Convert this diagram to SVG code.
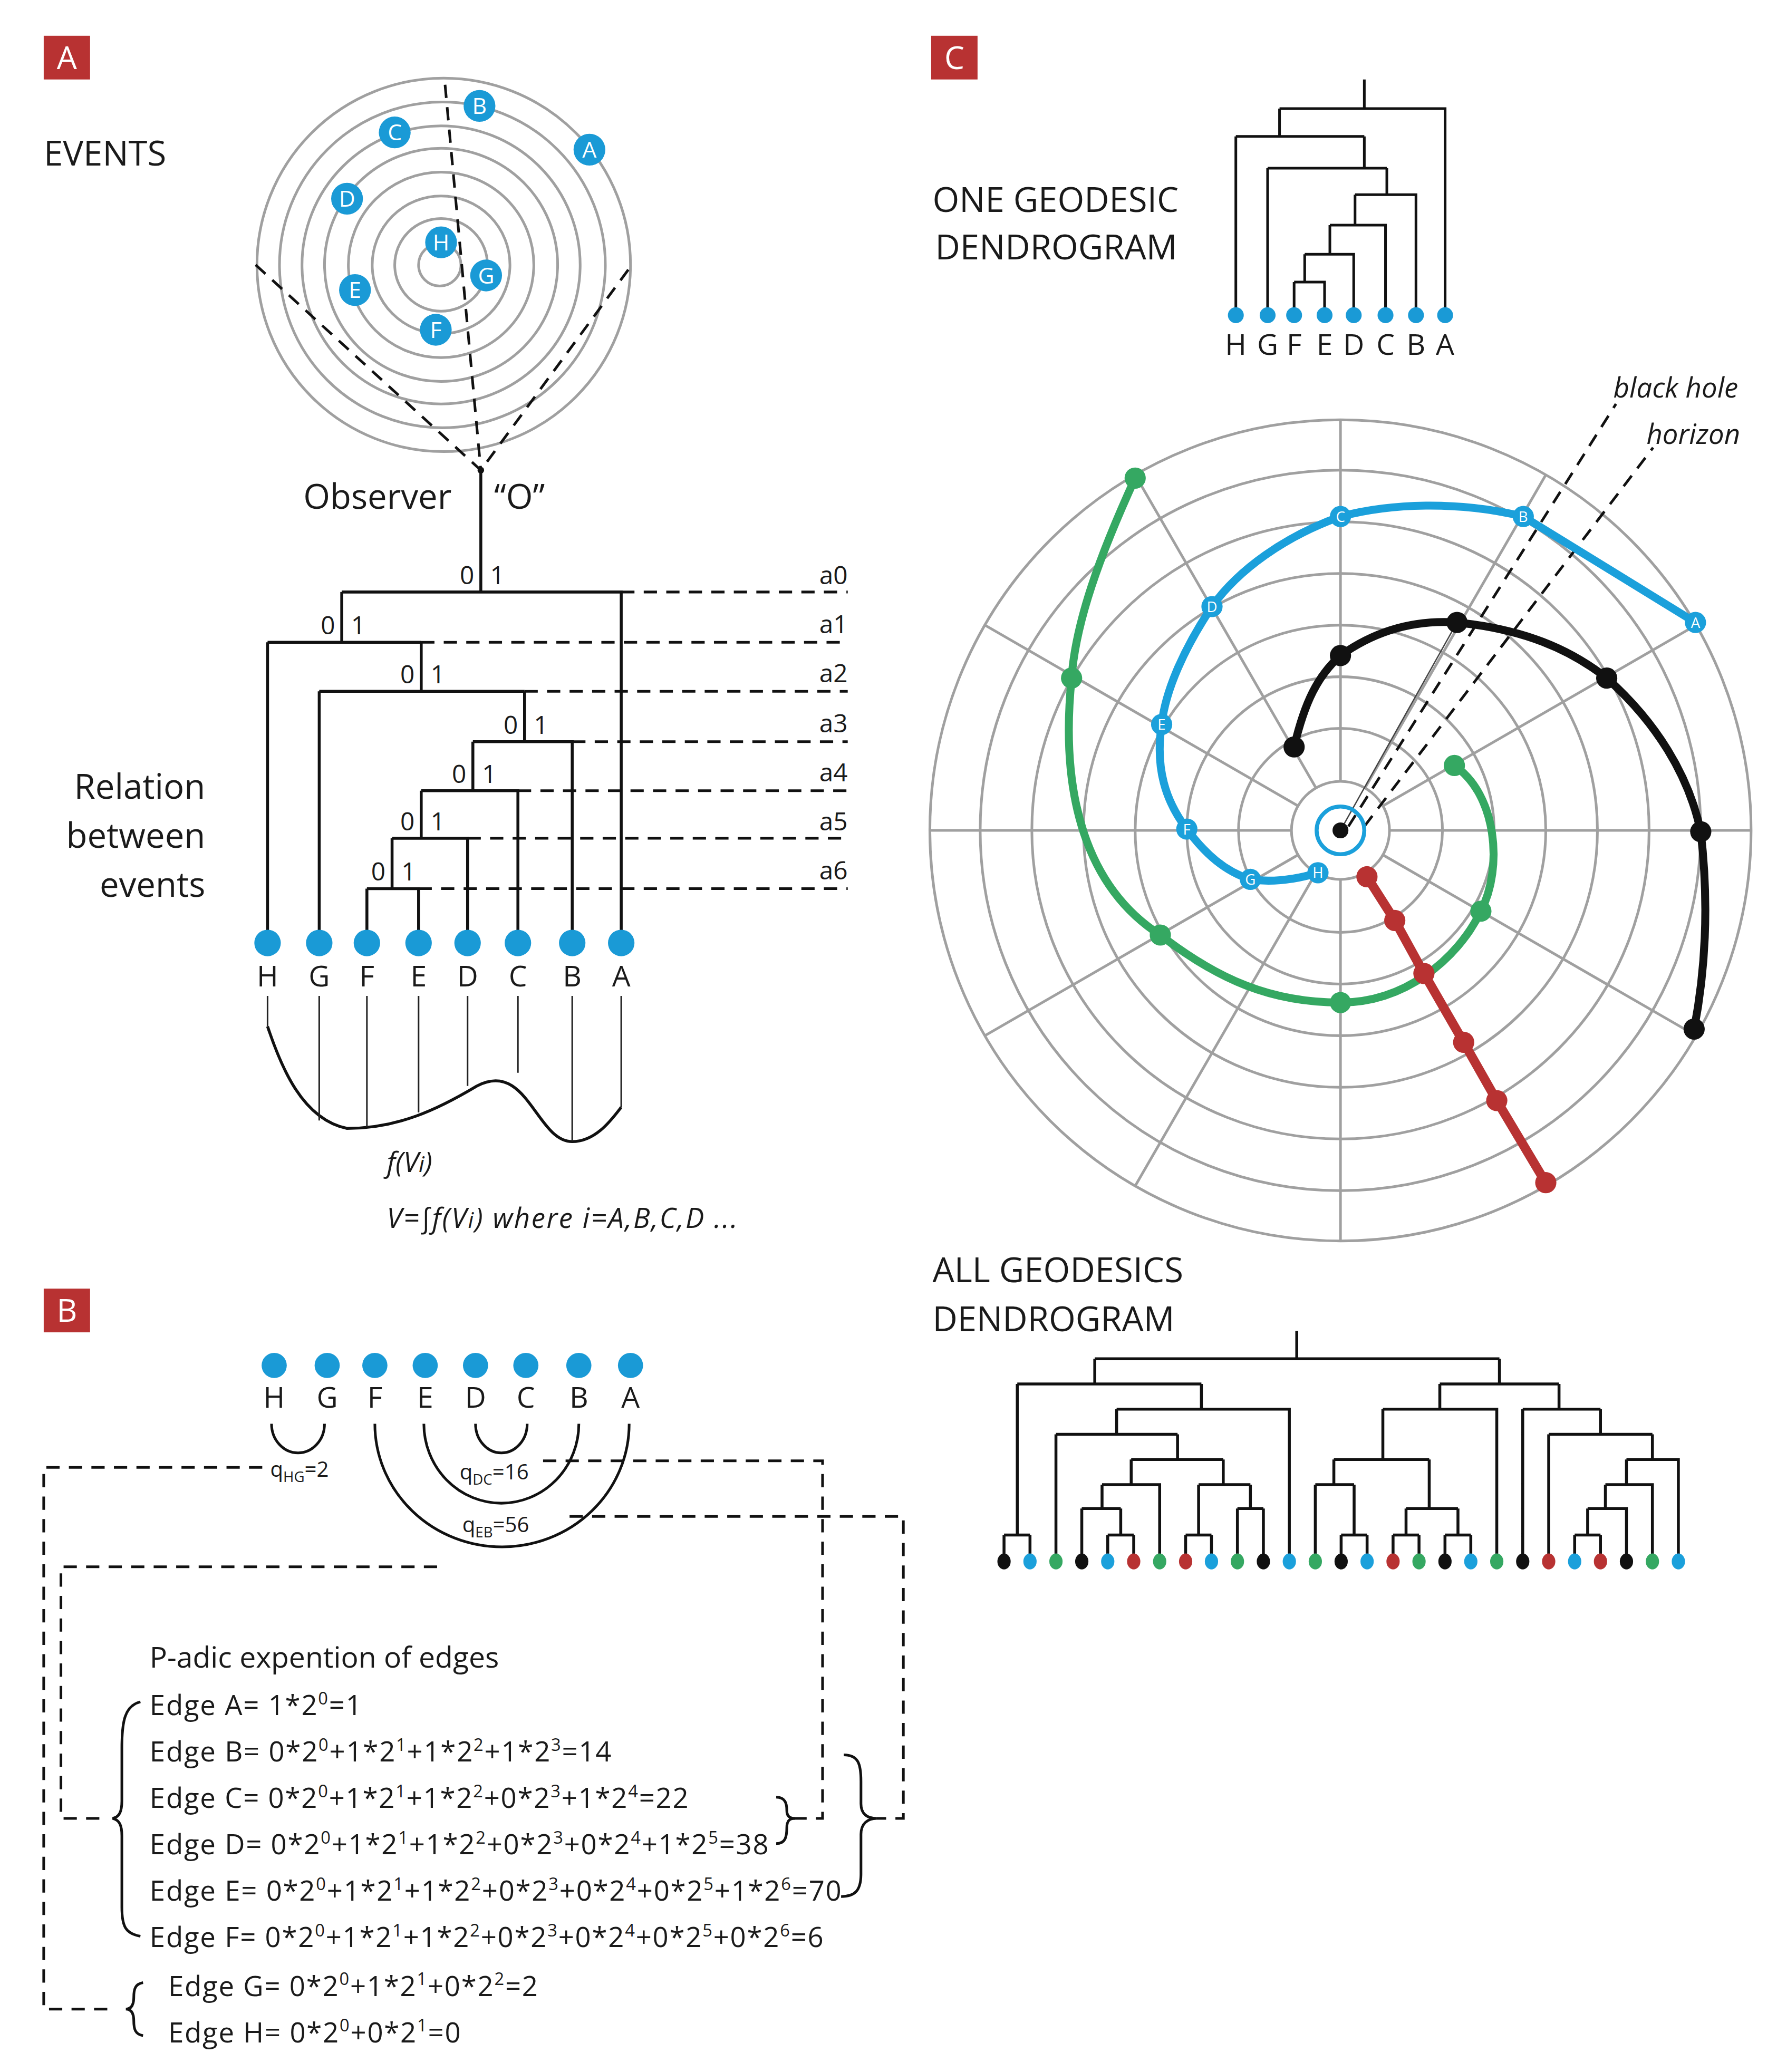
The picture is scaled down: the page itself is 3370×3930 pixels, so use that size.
<svg xmlns="http://www.w3.org/2000/svg" width="3370" height="3930" viewBox="0 0 3370 3930">
<defs>
<style>
text{font-family:"Open Sans","DejaVu Sans",sans-serif;fill:#1a1a1a}
.h{font-size:26px}
.lab{font-size:22px;text-anchor:middle}
.bit{font-size:19px}
.it{font-style:italic;font-size:21px}
.ed{font-size:21px;letter-spacing:0.7px}
.sp{font-size:13px}
.ln{fill:none;stroke:#111;stroke-width:2.2}
.tk{fill:none;stroke:#111;stroke-width:2}
.th{fill:none;stroke:#222;stroke-width:1.2}
.ds{fill:none;stroke:#111;stroke-width:2;stroke-dasharray:10 7}
.ring{fill:none;stroke:#a0a0a0;stroke-width:2}
.ev{fill:#1a9ad6}
.evt{font-size:17px;fill:#fff;text-anchor:middle}
.nt{font-size:11px;fill:#fff;text-anchor:middle}
.box{fill:#b83232}
.bx{fill:#fff;font-size:24px;text-anchor:middle}
</style>
</defs>
<rect width="3370" height="3930" fill="#fff"/>
<g transform="scale(2.512)">
<!-- PANEL A -->
<g id="panelA">
<rect class="box" x="33" y="27" width="35" height="33"/><text class="bx" x="50.5" y="52">A</text>
<text class="h" x="33" y="125">EVENTS</text>
<g id="events-rings">
<circle class="ring" cx="335" cy="200" r="141"/>
<circle class="ring" cx="334" cy="200" r="123"/>
<circle class="ring" cx="333" cy="200" r="105"/>
<circle class="ring" cx="333" cy="200" r="88"/>
<circle class="ring" cx="333" cy="200" r="70"/>
<circle class="ring" cx="333" cy="200" r="52"/>
<circle class="ring" cx="333" cy="200" r="35"/>
<circle class="ring" cx="332" cy="200" r="16"/>
</g>
<g id="obs-lines">
<path class="ds" d="M193,200 L363,355 L477,200"/>
<path class="ds" d="M336,64 L363,355"/>
<circle cx="363" cy="355" r="2.5" fill="#111"/>
</g>
<g id="ev-A"><circle class="ev" cx="445" cy="113" r="12"/><text class="evt" x="445" y="119">A</text></g>
<g id="ev-B"><circle class="ev" cx="362" cy="80" r="12"/><text class="evt" x="362" y="86">B</text></g>
<g id="ev-C"><circle class="ev" cx="298" cy="100" r="12"/><text class="evt" x="298" y="106">C</text></g>
<g id="ev-D"><circle class="ev" cx="262" cy="150" r="12"/><text class="evt" x="262" y="156">D</text></g>
<g id="ev-H"><circle class="ev" cx="333" cy="183" r="12"/><text class="evt" x="333" y="189">H</text></g>
<g id="ev-G"><circle class="ev" cx="367" cy="208" r="12"/><text class="evt" x="367" y="214">G</text></g>
<g id="ev-E"><circle class="ev" cx="268" cy="219" r="12"/><text class="evt" x="268" y="225">E</text></g>
<g id="ev-F"><circle class="ev" cx="329" cy="249" r="12"/><text class="evt" x="329" y="255">F</text></g>
<text class="h" x="229" y="384">Observer</text>
<text class="h" x="373" y="384">“O”</text>
<g id="treeA">
<path class="ln" d="M363,355 V447 M258,447 H469 V712 M258,447 V485 M202,485 H318 M202,485 V712 M318,485 V522 M241,522 H396 M241,522 V712 M396,522 V560 M357,560 H432 V712 M357,560 V597 M318,597 H391 V712 M318,597 V633 M296,633 H353 V712 M296,633 V671 M277,671 H316 V712 M277,671 V712"/>
<path class="ds" d="M469,447 H640 M318,485 H640 M396,522 H640 M432,560 H640 M391,597 H640 M353,633 H640 M316,671 H640"/>
<g class="bit">
<text x="358" y="441" text-anchor="end">0</text><text x="370" y="441">1</text>
<text x="253" y="479" text-anchor="end">0</text><text x="265" y="479">1</text>
<text x="313" y="516" text-anchor="end">0</text><text x="325" y="516">1</text>
<text x="391" y="554" text-anchor="end">0</text><text x="403" y="554">1</text>
<text x="352" y="591" text-anchor="end">0</text><text x="364" y="591">1</text>
<text x="313" y="627" text-anchor="end">0</text><text x="325" y="627">1</text>
<text x="291" y="665" text-anchor="end">0</text><text x="303" y="665">1</text>
</g>
<g class="bit" text-anchor="end">
<text x="640" y="441">a0</text><text x="640" y="478">a1</text><text x="640" y="515">a2</text><text x="640" y="553">a3</text><text x="640" y="590">a4</text><text x="640" y="627">a5</text><text x="640" y="664">a6</text>
</g>
<g class="ev">
<circle cx="202" cy="712" r="10"/><circle cx="241" cy="712" r="10"/><circle cx="277" cy="712" r="10"/><circle cx="316" cy="712" r="10"/><circle cx="353" cy="712" r="10"/><circle cx="391" cy="712" r="10"/><circle cx="432" cy="712" r="10"/><circle cx="469" cy="712" r="10"/>
</g>
<g class="lab">
<text x="202" y="745">H</text><text x="241" y="745">G</text><text x="277" y="745">F</text><text x="316" y="745">E</text><text x="353" y="745">D</text><text x="391" y="745">C</text><text x="432" y="745">B</text><text x="469" y="745">A</text>
</g>
</g>
<g id="fVi">
<path class="ln" d="M202,775 C212,805 228,845 262,852 C300,852 330,838 360,820 C398,800 405,862 432,862 C450,862 462,845 469,836"/>
<path class="th" d="M202,752 V775 M241,752 V846 M277,752 V851 M316,752 V840 M353,752 V820 M391,752 V810 M432,752 V862 M469,752 V836"/>
<text class="it" x="292" y="885">f(V<tspan font-size="17">i</tspan>)</text>
<text class="it" x="292" y="927" letter-spacing="1">V=∫f(V<tspan font-size="17">i</tspan>) where i=A,B,C,D ...</text>
</g>
<text class="h" x="155" y="603" text-anchor="end">Relation</text>
<text class="h" x="155" y="640" text-anchor="end">between</text>
<text class="h" x="155" y="677" text-anchor="end">events</text>
</g>

<!-- PANEL C -->
<g id="panelC">
<rect class="box" x="703" y="27" width="35" height="33"/><text class="bx" x="720.5" y="52">C</text>
<text class="h" x="704" y="160">ONE GEODESIC</text>
<text class="h" x="706" y="196">DENDROGRAM</text>
<g id="treeC1">
<path class="tk" d="M1030,60 V82 M966,82 H1091 V238 M966,82 V103 M933,103 H1030 M933,103 V238 M1030,103 V127 M957,127 H1047 M957,127 V238 M1047,127 V147 M1023,147 H1069 V238 M1023,147 V170 M1004,170 H1046 V238 M1004,170 V192 M985,192 H1022 V238 M985,192 V213 M977,213 H1000 V238 M977,213 V238"/>
<g class="ev"><circle cx="933" cy="238" r="6"/><circle cx="957" cy="238" r="6"/><circle cx="977" cy="238" r="6"/><circle cx="1000" cy="238" r="6"/><circle cx="1022" cy="238" r="6"/><circle cx="1046" cy="238" r="6"/><circle cx="1069" cy="238" r="6"/><circle cx="1091" cy="238" r="6"/></g>
<g class="lab"><text x="933" y="268">H</text><text x="957" y="268">G</text><text x="977" y="268">F</text><text x="1000" y="268">E</text><text x="1022" y="268">D</text><text x="1046" y="268">C</text><text x="1069" y="268">B</text><text x="1091" y="268">A</text></g>
</g>
<g id="polar">
<circle class="ring" cx="1012" cy="627" r="310"/>
<circle class="ring" cx="1012" cy="627" r="272"/>
<circle class="ring" cx="1012" cy="627" r="233"/>
<circle class="ring" cx="1012" cy="627" r="194"/>
<circle class="ring" cx="1012" cy="627" r="155"/>
<circle class="ring" cx="1012" cy="627" r="116"/>
<circle class="ring" cx="1012" cy="627" r="77"/>
<circle class="ring" cx="1012" cy="627" r="37"/>
<g class="ring">
<line x1="1049" y1="627" x2="1322" y2="627"/>
<line x1="1049" y1="627" x2="1322" y2="627" transform="rotate(30 1012 627)"/>
<line x1="1049" y1="627" x2="1322" y2="627" transform="rotate(60 1012 627)"/>
<line x1="1049" y1="627" x2="1322" y2="627" transform="rotate(90 1012 627)"/>
<line x1="1049" y1="627" x2="1322" y2="627" transform="rotate(120 1012 627)"/>
<line x1="1049" y1="627" x2="1322" y2="627" transform="rotate(150 1012 627)"/>
<line x1="1049" y1="627" x2="1322" y2="627" transform="rotate(180 1012 627)"/>
<line x1="1049" y1="627" x2="1322" y2="627" transform="rotate(210 1012 627)"/>
<line x1="1049" y1="627" x2="1322" y2="627" transform="rotate(240 1012 627)"/>
<line x1="1049" y1="627" x2="1322" y2="627" transform="rotate(270 1012 627)"/>
<line x1="1049" y1="627" x2="1322" y2="627" transform="rotate(300 1012 627)"/>
<line x1="1049" y1="627" x2="1322" y2="627" transform="rotate(330 1012 627)"/>
</g>
</g>
<g id="horizon">
<line x1="1012" y1="627" x2="1100" y2="470" stroke="#444" stroke-width="1"/>
<path class="ds" d="M1018,624 L1220,305 M1030,624 L1248,338"/>
<circle cx="1012" cy="627" r="18" fill="none" stroke="#1ba0db" stroke-width="3"/>
<circle cx="1012" cy="627" r="6" fill="#111"/>
<text class="it" x="1218" y="300" font-size="22">black hole</text>
<text class="it" x="1243" y="335" font-size="22">horizon</text>
</g>
<g id="geo-green">
<path d="M857,361 C830,420 812,470 809,512 C800,600 820,670 876,706 C920,740 960,757 1012,757 C1060,757 1100,725 1118,688 C1135,655 1130,600 1098,578" fill="none" stroke="#35a862" stroke-width="6" stroke-linecap="round"/>
<g fill="#35a862"><circle cx="857" cy="361" r="8"/><circle cx="809" cy="512" r="8"/><circle cx="876" cy="706" r="8"/><circle cx="1012" cy="757" r="8"/><circle cx="1118" cy="688" r="8"/><circle cx="1098" cy="578" r="8"/></g>
</g>
<g id="geo-black">
<path d="M977,564 C985,530 995,510 1012,495 C1040,475 1070,468 1100,470 C1150,475 1185,490 1213,512 C1250,545 1275,585 1284,628 C1290,680 1288,730 1279,777" fill="none" stroke="#111" stroke-width="6" stroke-linecap="round"/>
<g fill="#111"><circle cx="977" cy="564" r="8"/><circle cx="1012" cy="495" r="8"/><circle cx="1100" cy="470" r="8"/><circle cx="1213" cy="512" r="8"/><circle cx="1284" cy="628" r="8"/><circle cx="1279" cy="777" r="8"/></g>
</g>
<g id="geo-red">
<polyline points="1032,662 1053,695 1075,735 1105,787 1130,831 1167,893" fill="none" stroke="#b83232" stroke-width="7" stroke-linecap="round"/>
<g fill="#b83232"><circle cx="1032" cy="662" r="8"/><circle cx="1053" cy="695" r="8"/><circle cx="1075" cy="735" r="8"/><circle cx="1105" cy="787" r="8"/><circle cx="1130" cy="831" r="8"/><circle cx="1167" cy="893" r="8"/></g>
</g>
<g id="geo-blue">
<path d="M1280,470 L1150,390 C1100,378 1050,380 1012,390 C970,405 935,430 915,458 C895,488 880,520 877,547 C872,580 880,605 896,626 C910,645 925,658 944,664 C965,667 985,662 995,659" fill="none" stroke="#1ba0db" stroke-width="6" stroke-linecap="round"/>
<g fill="#1ba0db"><circle cx="1280" cy="470" r="8"/><circle cx="1150" cy="390" r="8"/><circle cx="1012" cy="390" r="8"/><circle cx="915" cy="458" r="8"/><circle cx="877" cy="547" r="8"/><circle cx="896" cy="626" r="8"/><circle cx="944" cy="664" r="8"/><circle cx="995" cy="659" r="8"/></g>
<text class="nt" x="1280" y="474">A</text><text class="nt" x="1150" y="394">B</text><text class="nt" x="1012" y="394">C</text><text class="nt" x="915" y="462">D</text><text class="nt" x="877" y="551">E</text><text class="nt" x="896" y="630">F</text><text class="nt" x="944" y="668">G</text><text class="nt" x="995" y="663">H</text>
</g>
<text class="h" x="704" y="968">ALL GEODESICS</text>
<text class="h" x="704" y="1005">DENDROGRAM</text>
<g id="treeC2">
<path class="ln" d="M979,1005 V1026 M826.5,1026 H1132
M826.5,1026 V1045 M768,1045 H907 M768,1045 V1159 M758,1159 H777.6 M758,1159 V1179 M777.6,1159 V1179
M907,1045 V1064 M843,1064 H973.4 V1179
M843,1064 V1083 M797.2,1083 H889 M797.2,1083 V1179
M889,1083 V1102 M854,1102 H923.5
M854,1102 V1121 M832,1121 H875.5 V1179
M832,1121 V1139 M816.7,1139 H846.1 M816.7,1139 V1179 M846.1,1139 V1159 M836.3,1159 H855.9 M836.3,1159 V1179 M855.9,1159 V1179
M923.5,1102 V1121 M904.9,1121 H944 M904.9,1121 V1159 M895.1,1159 H914.6 M895.1,1159 V1179 M914.6,1159 V1179
M944,1121 V1139 M934.2,1139 H953.8 M934.2,1139 V1179 M953.8,1139 V1179
M1132,1026 V1045 M1087,1045 H1177
M1087,1045 V1064 M1044,1064 H1130 V1179
M1044,1064 V1102 M1007,1102 H1079
M1007,1102 V1121 M993,1121 H1022.3 M993,1121 V1179 M1022.3,1121 V1159 M1012.5,1159 H1032.1 M1012.5,1159 V1179 M1032.1,1159 V1179
M1079,1102 V1139 M1061.5,1139 H1100.7 M1061.5,1139 V1159 M1100.7,1139 V1159 M1051.7,1159 H1071.3 M1051.7,1159 V1179 M1071.3,1159 V1179 M1090.9,1159 H1110.4 M1090.9,1159 V1179 M1110.4,1159 V1179
M1177,1045 V1064 M1149.6,1064 H1208.3 M1149.6,1064 V1179
M1208.3,1064 V1083 M1169.2,1083 H1247.5 M1169.2,1083 V1179
M1247.5,1083 V1102 M1227.9,1102 H1267.1 V1179
M1227.9,1102 V1121 M1212,1121 H1247.5 V1179
M1212,1121 V1139 M1198.6,1139 H1227.9 V1179 M1198.6,1139 V1159 M1188.8,1159 H1208.3 M1188.8,1159 V1179 M1208.3,1159 V1179"/>
<g>
<ellipse cx="758" cy="1179" rx="5" ry="6" fill="#111"/>
<ellipse cx="777.6" cy="1179" rx="5" ry="6" fill="#1ba0db"/>
<ellipse cx="797.2" cy="1179" rx="5" ry="6" fill="#35a862"/>
<ellipse cx="816.7" cy="1179" rx="5" ry="6" fill="#111"/>
<ellipse cx="836.3" cy="1179" rx="5" ry="6" fill="#1ba0db"/>
<ellipse cx="855.9" cy="1179" rx="5" ry="6" fill="#b83232"/>
<ellipse cx="875.5" cy="1179" rx="5" ry="6" fill="#35a862"/>
<ellipse cx="895.1" cy="1179" rx="5" ry="6" fill="#b83232"/>
<ellipse cx="914.6" cy="1179" rx="5" ry="6" fill="#1ba0db"/>
<ellipse cx="934.2" cy="1179" rx="5" ry="6" fill="#35a862"/>
<ellipse cx="953.8" cy="1179" rx="5" ry="6" fill="#111"/>
<ellipse cx="973.4" cy="1179" rx="5" ry="6" fill="#1ba0db"/>
<ellipse cx="993" cy="1179" rx="5" ry="6" fill="#35a862"/>
<ellipse cx="1012.5" cy="1179" rx="5" ry="6" fill="#111"/>
<ellipse cx="1032.1" cy="1179" rx="5" ry="6" fill="#1ba0db"/>
<ellipse cx="1051.7" cy="1179" rx="5" ry="6" fill="#b83232"/>
<ellipse cx="1071.3" cy="1179" rx="5" ry="6" fill="#35a862"/>
<ellipse cx="1090.9" cy="1179" rx="5" ry="6" fill="#111"/>
<ellipse cx="1110.4" cy="1179" rx="5" ry="6" fill="#1ba0db"/>
<ellipse cx="1130" cy="1179" rx="5" ry="6" fill="#35a862"/>
<ellipse cx="1149.6" cy="1179" rx="5" ry="6" fill="#111"/>
<ellipse cx="1169.2" cy="1179" rx="5" ry="6" fill="#b83232"/>
<ellipse cx="1188.8" cy="1179" rx="5" ry="6" fill="#1ba0db"/>
<ellipse cx="1208.3" cy="1179" rx="5" ry="6" fill="#b83232"/>
<ellipse cx="1227.9" cy="1179" rx="5" ry="6" fill="#111"/>
<ellipse cx="1247.5" cy="1179" rx="5" ry="6" fill="#35a862"/>
<ellipse cx="1267.1" cy="1179" rx="5" ry="6" fill="#1ba0db"/>
</g>
</g>
</g>

<!-- PANEL B -->
<g id="panelB">
<rect class="box" x="33" y="973" width="35" height="33"/><text class="bx" x="50.5" y="998">B</text>
<g class="ev"><circle cx="207" cy="1031" r="9.5"/><circle cx="247" cy="1031" r="9.5"/><circle cx="283" cy="1031" r="9.5"/><circle cx="321" cy="1031" r="9.5"/><circle cx="359" cy="1031" r="9.5"/><circle cx="397" cy="1031" r="9.5"/><circle cx="437" cy="1031" r="9.5"/><circle cx="476" cy="1031" r="9.5"/></g>
<g class="lab"><text x="207" y="1063">H</text><text x="247" y="1063">G</text><text x="283" y="1063">F</text><text x="321" y="1063">E</text><text x="359" y="1063">D</text><text x="397" y="1063">C</text><text x="437" y="1063">B</text><text x="476" y="1063">A</text></g>
<g id="arcs">
<path class="tk" d="M205,1075 A20,22 0 0 0 245,1075"/>
<path class="tk" d="M359,1075 A19.5,22 0 0 0 398,1075"/>
<path class="tk" d="M320,1075 A58.5,60 0 0 0 437,1075"/>
<path class="tk" d="M283,1075 A96,93 0 0 0 475,1075"/>
</g>
<text x="204" y="1115" font-size="16">q<tspan font-size="11" dy="4">HG</tspan><tspan dy="-4">=2</tspan></text>
<text x="347" y="1117" font-size="16">q<tspan font-size="11" dy="4">DC</tspan><tspan dy="-4">=16</tspan></text>
<text x="349" y="1157" font-size="16">q<tspan font-size="11" dy="4">EB</tspan><tspan dy="-4">=56</tspan></text>
<g id="dashes">
<path class="ds" d="M198,1108 H33 V1517 H88"/>
<path class="ds" d="M330,1183 H46 V1373 H78"/>
<path class="ds" d="M410,1103 H621 V1373 H598"/>
<path class="ds" d="M430,1145 H682 V1373 H662"/>
</g>
<g id="braces">
<path class="tk" d="M106,1285 C94,1288 92,1300 92,1320 L92,1360 C92,1368 90,1372 85,1373 C90,1374 92,1378 92,1386 L92,1440 C92,1455 95,1460 106,1462"/>
<path class="tk" d="M586,1357 C593,1357 594,1362 594,1367 C594,1371 596,1373 600,1373 C596,1373 594,1375 594,1380 C594,1387 593,1392 586,1392"/>
<path class="tk" d="M637,1325 C648,1325 650,1332 650,1345 L650,1362 C650,1370 655,1373 662,1373 C655,1373 650,1377 650,1385 L650,1415 C650,1428 645,1432 635,1432"/>
<path class="tk" d="M108,1497 C102,1498 101,1502 101,1508 C101,1514 99,1517 95,1517 C99,1517 101,1520 101,1526 C101,1532 102,1536 108,1537"/>
</g>
<g class="ed">
<text x="113" y="1259" font-size="22" letter-spacing="0">P-adic expention of edges</text>
<text x="113" y="1295">Edge A= 1*2<tspan class="sp" dy="-8">0</tspan><tspan dy="8">=1</tspan></text>
<text x="113" y="1330">Edge B= 0*2<tspan class="sp" dy="-8">0</tspan><tspan dy="8">+1*2</tspan><tspan class="sp" dy="-8">1</tspan><tspan dy="8">+1*2</tspan><tspan class="sp" dy="-8">2</tspan><tspan dy="8">+1*2</tspan><tspan class="sp" dy="-8">3</tspan><tspan dy="8">=14</tspan></text>
<text x="113" y="1365">Edge C= 0*2<tspan class="sp" dy="-8">0</tspan><tspan dy="8">+1*2</tspan><tspan class="sp" dy="-8">1</tspan><tspan dy="8">+1*2</tspan><tspan class="sp" dy="-8">2</tspan><tspan dy="8">+0*2</tspan><tspan class="sp" dy="-8">3</tspan><tspan dy="8">+1*2</tspan><tspan class="sp" dy="-8">4</tspan><tspan dy="8">=22</tspan></text>
<text x="113" y="1400">Edge D= 0*2<tspan class="sp" dy="-8">0</tspan><tspan dy="8">+1*2</tspan><tspan class="sp" dy="-8">1</tspan><tspan dy="8">+1*2</tspan><tspan class="sp" dy="-8">2</tspan><tspan dy="8">+0*2</tspan><tspan class="sp" dy="-8">3</tspan><tspan dy="8">+0*2</tspan><tspan class="sp" dy="-8">4</tspan><tspan dy="8">+1*2</tspan><tspan class="sp" dy="-8">5</tspan><tspan dy="8">=38</tspan></text>
<text x="113" y="1435">Edge E= 0*2<tspan class="sp" dy="-8">0</tspan><tspan dy="8">+1*2</tspan><tspan class="sp" dy="-8">1</tspan><tspan dy="8">+1*2</tspan><tspan class="sp" dy="-8">2</tspan><tspan dy="8">+0*2</tspan><tspan class="sp" dy="-8">3</tspan><tspan dy="8">+0*2</tspan><tspan class="sp" dy="-8">4</tspan><tspan dy="8">+0*2</tspan><tspan class="sp" dy="-8">5</tspan><tspan dy="8">+1*2</tspan><tspan class="sp" dy="-8">6</tspan><tspan dy="8">=70</tspan></text>
<text x="113" y="1470">Edge F= 0*2<tspan class="sp" dy="-8">0</tspan><tspan dy="8">+1*2</tspan><tspan class="sp" dy="-8">1</tspan><tspan dy="8">+1*2</tspan><tspan class="sp" dy="-8">2</tspan><tspan dy="8">+0*2</tspan><tspan class="sp" dy="-8">3</tspan><tspan dy="8">+0*2</tspan><tspan class="sp" dy="-8">4</tspan><tspan dy="8">+0*2</tspan><tspan class="sp" dy="-8">5</tspan><tspan dy="8">+0*2</tspan><tspan class="sp" dy="-8">6</tspan><tspan dy="8">=6</tspan></text>
<text x="127" y="1507">Edge G= 0*2<tspan class="sp" dy="-8">0</tspan><tspan dy="8">+1*2</tspan><tspan class="sp" dy="-8">1</tspan><tspan dy="8">+0*2</tspan><tspan class="sp" dy="-8">2</tspan><tspan dy="8">=2</tspan></text>
<text x="127" y="1542">Edge H= 0*2<tspan class="sp" dy="-8">0</tspan><tspan dy="8">+0*2</tspan><tspan class="sp" dy="-8">1</tspan><tspan dy="8">=0</tspan></text>
</g>
</g>
</g>
</svg>
